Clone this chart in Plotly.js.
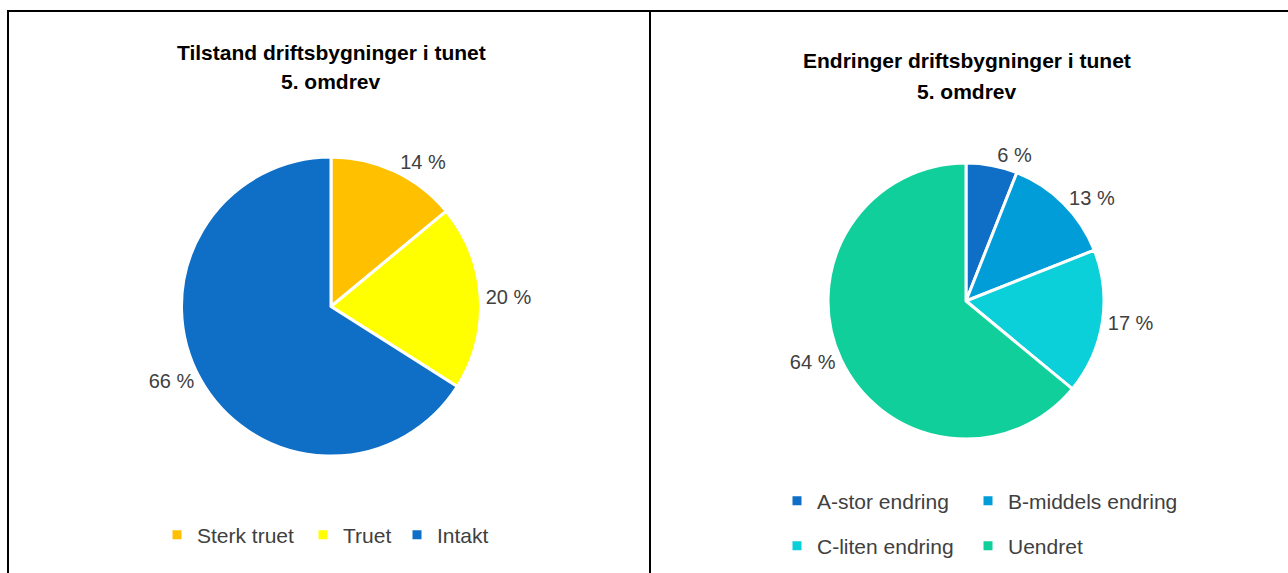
<!DOCTYPE html>
<html>
<head>
<meta charset="utf-8">
<script src="https://cdn.plot.ly/plotly-3.0.1.min.js"></script>
<style>html,body{margin:0;padding:0;background:#fff;}#chart{width:1288px;height:573px;}</style>
</head>
<body>
<div id="chart"></div>
<script>
// Left chart: Tilstand driftsbygninger i tunet, 5. omdrev
const leftTitle = ['Tilstand driftsbygninger i tunet', '5. omdrev'];
const leftCategories = ['Sterk truet', 'Truet', 'Intakt'];
const leftValues = [14, 20, 66];
const leftColors = ['#FFC000', '#FFFF00', '#0F6FC6'];

// Right chart: Endringer driftsbygninger i tunet, 5. omdrev
const rightTitle = ['Endringer driftsbygninger i tunet', '5. omdrev'];
const rightCategories = ['A-stor endring', 'B-middels endring', 'C-liten endring', 'Uendret'];
const rightValues = [6, 13, 17, 64];
const rightColors = ['#0F6FC6', '#009DD9', '#0BD0D9', '#10CF9B'];

const W = 1288, H = 573;
const FONT = 'Liberation Sans, Arial, sans-serif';
const TXT = '#404040';
const px = v => v / W;
const py = v => 1 - v / H;

const traces = [];
traces.push({
  type: 'pie',
  labels: leftCategories,
  values: leftValues,
  marker: {colors: leftColors, line: {color: '#ffffff', width: 3}},
  sort: false,
  direction: 'clockwise',
  rotation: 0,
  textposition: 'outside',
  texttemplate: '%{value} %',
  outsidetextfont: {family: FONT, size: 20, color: TXT},
  domain: {x: [px(181), px(481)], y: [py(456), py(157)]},
  showlegend: false,
  hoverinfo: 'skip'
});
traces.push({
  type: 'pie',
  labels: rightCategories,
  values: rightValues,
  marker: {colors: rightColors, line: {color: '#ffffff', width: 3}},
  sort: false,
  direction: 'clockwise',
  rotation: 0,
  textposition: 'outside',
  texttemplate: '%{value} %',
  outsidetextfont: {family: FONT, size: 20, color: TXT},
  domain: {x: [px(828), px(1104)], y: [py(439), py(163)]},
  showlegend: false,
  hoverinfo: 'skip'
});

// Legend entries: one small legend per category so that the layout matches the reference
const legendSpots = {};
let legendCount = 0;
function addLegendItem(name, color, xText, yMid) {
  legendCount += 1;
  const id = legendCount === 1 ? 'legend' : 'legend' + legendCount;
  traces.push({
    type: 'scatter', mode: 'markers',
    x: [null], y: [null],
    name: name,
    marker: {symbol: 'square', size: 9, color: color},
    legend: id, showlegend: true, hoverinfo: 'skip'
  });
  legendSpots[id] = {xText: xText, yMid: yMid};
}
const leftLegendX = [197, 343, 437];
leftCategories.forEach((c, i) => addLegendItem(c, leftColors[i], leftLegendX[i], 535));
const rightLegendX = [817, 1008, 817, 1008];
const rightLegendY = [501, 501, 546, 546];
rightCategories.forEach((c, i) => addLegendItem(c, rightColors[i], rightLegendX[i], rightLegendY[i]));

const line = (x0, y0, x1, y1) => ({
  type: 'line', xref: 'paper', yref: 'paper',
  x0: px(x0), y0: py(y0), x1: px(x1), y1: py(y1),
  line: {color: '#000000', width: 2}
});

const titleAnn = (txt, x, y) => ({
  text: '<b>' + txt + '</b>', xref: 'paper', yref: 'paper',
  x: px(x), y: py(y), xanchor: 'center', yanchor: 'middle', showarrow: false,
  font: {family: FONT, size: 21, color: '#000000'}
});

const layout = {
  width: W, height: H,
  margin: {l: 0, r: 0, t: 0, b: 0},
  paper_bgcolor: '#ffffff',
  plot_bgcolor: '#ffffff',
  hovermode: false,
  xaxis: {visible: false},
  yaxis: {visible: false},
  annotations: [
    titleAnn(leftTitle[0], 331, 52),
    titleAnn(leftTitle[1], 331, 82),
    titleAnn(rightTitle[0], 967, 61),
    titleAnn(rightTitle[1], 967, 91)
  ],
  shapes: [
    line(7, 11, 1288, 11),
    line(8, 10, 8, 573),
    line(650, 10, 650, 573)
  ]
};
Object.keys(legendSpots).forEach(id => {
  layout[id] = {
    orientation: 'h',
    font: {family: FONT, size: 21, color: TXT},
    bgcolor: 'rgba(0,0,0,0)',
    xanchor: 'left', yanchor: 'middle',
    x: px(legendSpots[id].xText - 40), y: py(legendSpots[id].yMid)
  };
});

Plotly.newPlot('chart', traces, layout, {staticPlot: true, displayModeBar: false});
</script>
</body>
</html>
